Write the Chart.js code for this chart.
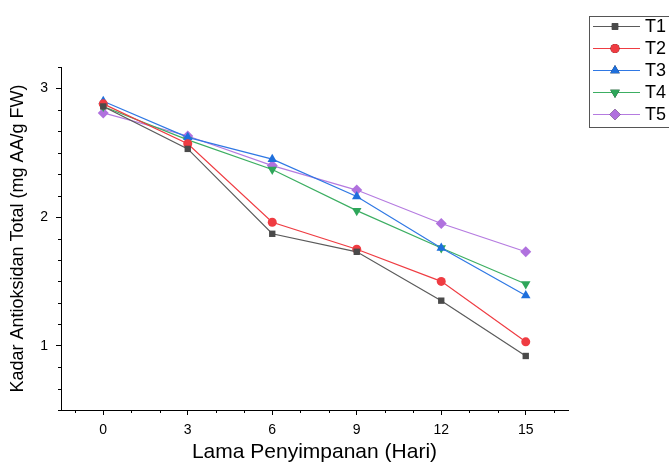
<!DOCTYPE html>
<html>
<head>
<meta charset="utf-8">
<script src="https://cdn.jsdelivr.net/npm/chart.js@4"></script>
<style>
  html, body { margin: 0; padding: 0; background: #fff; }
  #wrap { width: 669px; height: 465px; position: relative; }
</style>
</head>
<body>
<div id="wrap"><canvas id="antioksidan" width="669" height="465"></canvas></div>
<script>
// storage days and measured totals per treatment
var days = [0, 3, 6, 9, 12, 15];
var seriesNames = ["T1", "T2", "T3", "T4", "T5"];
var t1 = [2.86, 2.53, 1.87, 1.73, 1.35, 0.92];
var t2 = [2.88, 2.57, 1.96, 1.75, 1.50, 1.03];
var t3 = [2.90, 2.62, 2.45, 2.16, 1.76, 1.39];
var t4 = [2.86, 2.60, 2.37, 2.05, 1.76, 1.48];
var t5 = [2.81, 2.63, 2.40, 2.21, 1.95, 1.73];
var xTicks = [0, 3, 6, 9, 12, 15];
var yTicks = [1, 2, 3];

var lineColors = ["#5a5a5a", "#ef3c42", "#2f78e4", "#3cae62", "#b57be0"];
var markColors = ["#4a4a4a", "#ef3c42", "#1e6fdc", "#2ea65a", "#b071de"];
var shapes = ["rect", "circle", "triangle", "triangle", "rectRot"];
var rotations = [0, 0, 0, 180, 0];
var radii = [4.5, 4.5, 5.5, 5.5, 5.5];

function toPoints(vals) {
  return vals.map(function (v, i) { return { x: days[i], y: v }; });
}

var allValues = [t1, t2, t3, t4, t5];
var datasets = allValues.map(function (vals, i) {
  return {
    label: seriesNames[i],
    data: toPoints(vals),
    borderColor: lineColors[i],
    borderWidth: 1.2,
    backgroundColor: markColors[i],
    pointBackgroundColor: markColors[i],
    pointBorderColor: markColors[i],
    pointBorderWidth: 0,
    pointStyle: shapes[i],
    pointRotation: rotations[i],
    pointRadius: radii[i],
    tension: 0
  };
});

var font = "'Liberation Sans', Arial, sans-serif";

// minor ticks on both axes plus a boxed legend at the top right
var extras = {
  id: "extras",
  afterDraw: function (chart) {
    var ctx = chart.ctx;
    var xs = chart.scales.x, ys = chart.scales.y;
    var area = chart.chartArea;
    ctx.save();
    ctx.strokeStyle = "#000";
    ctx.lineWidth = 1;
    ctx.beginPath();
    for (var v = -1; v <= 16; v++) {
      if (v % 3 === 0) continue;
      var px = Math.round(xs.getPixelForValue(v)) + 0.5;
      ctx.moveTo(px, area.bottom);
      ctx.lineTo(px, area.bottom + 3);
    }
    for (var k = 3; k <= 19; k++) {
      if (k % 6 === 0) continue;
      var py = Math.round(ys.getPixelForValue(k / 6)) + 0.5;
      ctx.moveTo(area.left, py);
      ctx.lineTo(area.left - 3, py);
    }
    ctx.stroke();

    // legend box
    var bx = 589.5, by = 16.5, rowH = 22;
    ctx.strokeStyle = "#555";
    ctx.strokeRect(bx, by, 100, 111);
    ctx.font = "18px " + font;
    ctx.textBaseline = "middle";
    ctx.fillStyle = "#000";
    chart.data.datasets.forEach(function (ds, i) {
      var y = by + 10 + i * rowH;
      ctx.strokeStyle = ds.borderColor;
      ctx.lineWidth = 1.2;
      ctx.beginPath();
      ctx.moveTo(593, y);
      ctx.lineTo(640, y);
      ctx.stroke();
      Chart.helpers.drawPoint(ctx, {
        pointStyle: ds.pointStyle,
        rotation: ds.pointRotation,
        radius: ds.pointRadius,
        borderWidth: 0
      }, 615, y);
      ctx.fillStyle = ds.pointBackgroundColor;
      ctx.fill();
      ctx.fillStyle = "#000";
      ctx.fillText(ds.label, 645, y + 1);
    });
    ctx.restore();
  }
};

new Chart("antioksidan", {
  type: "line",
  data: { datasets: datasets },
  options: {
    responsive: false,
    animation: false,
    layout: { padding: { left: 0, top: 67, right: 101, bottom: 0 } },
    plugins: {
      legend: { display: false },
      tooltip: { enabled: false }
    },
    scales: {
      x: {
        type: "linear",
        min: -1.5,
        max: 16.5,
        afterBuildTicks: function (s) {
          s.ticks = xTicks.map(function (v) { return { value: v }; });
        },
        afterFit: function (s) { s.height = 55; },
        ticks: {
          color: "#000",
          font: { family: font, size: 14 },
          padding: 7,
          maxRotation: 0
        },
        grid: {
          drawOnChartArea: false,
          color: "#000",
          tickLength: 5,
          tickColor: "#000"
        },
        border: { color: "#000", width: 1 },
        title: {
          display: true,
          text: "Lama Penyimpanan (Hari)",
          color: "#000",
          font: { family: font, size: 21 },
          padding: { top: 2, bottom: 0 }
        }
      },
      y: {
        type: "linear",
        min: 0.5,
        max: 19 / 6,
        afterBuildTicks: function (s) {
          s.ticks = yTicks.map(function (v) { return { value: v }; });
        },
        afterFit: function (s) { s.width = 61; },
        ticks: {
          color: "#000",
          font: { family: font, size: 14 },
          padding: 8
        },
        grid: {
          drawOnChartArea: false,
          color: "#000",
          tickLength: 5,
          tickColor: "#000"
        },
        border: { color: "#000", width: 1 },
        title: {
          display: true,
          text: "Kadar Antioksidan Total (mg AA/g FW)",
          color: "#000",
          font: { family: font, size: 18 },
          padding: { top: 7, bottom: 0 }
        }
      }
    }
  },
  plugins: [extras]
});
</script>
</body>
</html>
